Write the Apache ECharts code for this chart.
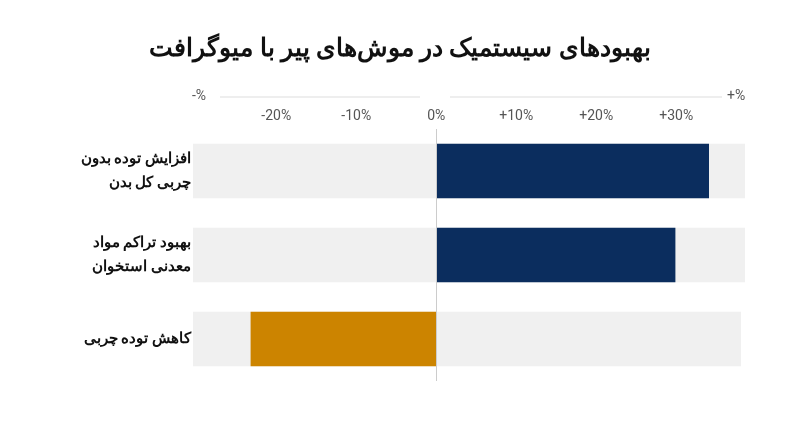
<!DOCTYPE html>
<html><head><meta charset="utf-8">
<script src="https://cdn.jsdelivr.net/npm/echarts@6/dist/echarts.min.js"></script>
<style>html,body{margin:0;padding:0;background:#fff}#c{width:800px;height:447px}</style>
</head><body><div id="c"></div>
<script>
const categories = ['افزایش توده بدون\nچربی کل بدن', 'بهبود تراکم مواد\nمعدنی استخوان', 'کاهش توده چربی'];
const values = [34.1, 29.9, -23.2];
const colors = ['#0b2d5e', '#0b2d5e', '#cc8400'];
const bgPos = [38.6, 38.6, 38.1];
const bgNeg = [-30.4, -30.4, -30.4];
const tickValues = [-20, -10, 0, 10, 20, 30];
const title = 'بهبودهای سیستمیک در موش‌های پیر با میوگرافت';

const chart = echarts.init(document.getElementById('c'));
const F = 'Roboto, "Noto Sans", sans-serif';
chart.setOption({
  animation: false,
  title: { text: title, left: 'center', top: 32, textStyle: { fontFamily: F, fontSize: 25, fontWeight: 'bold', color: '#111' } },
  grid: { left: 193, right: 55, top: 129, bottom: 66 },
  xAxis: {
    type: 'value', position: 'top', min: -30.4, max: 38.6,
    splitLine: { show: false }, axisLine: { show: false }, axisTick: { show: false },
    axisLabel: { customValues: tickValues, margin: 6, color: '#555', fontFamily: F, fontSize: 14,
      formatter: v => (v > 0 ? '+' : '') + v + '%' }
  },
  yAxis: {
    type: 'category', data: categories, inverse: true,
    axisLine: { show: false }, axisTick: { show: false },
    axisLabel: { color: '#111', fontFamily: F, fontSize: 15, fontWeight: 'bold', lineHeight: 24, align: 'right', margin: 2 }
  },
  graphic: [
    { type: 'line', shape: { x1: 220, y1: 97, x2: 420, y2: 97 }, style: { stroke: '#ddd', lineWidth: 1 } },
    { type: 'line', shape: { x1: 450, y1: 97, x2: 722, y2: 97 }, style: { stroke: '#ddd', lineWidth: 1 } },
    { type: 'text', left: 192, top: 89, style: { text: '-%', fill: '#555', font: '14px Roboto' } },
    { type: 'text', left: 727, top: 89, style: { text: '+%', fill: '#555', font: '14px Roboto' } }
  ],
  series: [
    { type: 'bar', data: bgPos, barWidth: '65%', barGap: '-100%', itemStyle: { color: '#f0f0f0' }, silent: true },
    { type: 'bar', data: bgNeg, barWidth: '65%', barGap: '-100%', itemStyle: { color: '#f0f0f0' }, silent: true },
    { type: 'bar', data: values.map((v, i) => ({ value: v, itemStyle: { color: colors[i] } })), barWidth: '65%', barGap: '-100%',
      markLine: { silent: true, symbol: 'none', label: { show: false },
        lineStyle: { color: '#ccc', type: 'solid', width: 1 }, data: [{ xAxis: 0 }] } }
  ]
});
</script></body></html>
